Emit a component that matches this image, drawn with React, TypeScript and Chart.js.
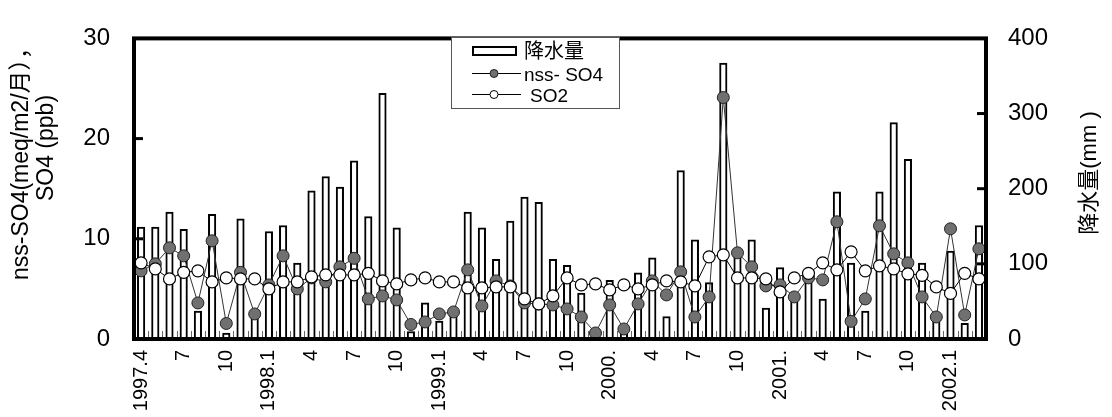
import React, { useEffect, useRef } from "react";
import { Chart, registerables } from "chart.js";

Chart.register(...registerables);

const FONT = '"Liberation Sans", "Noto Sans CJK JP", Arial, sans-serif';

const months = [
  "1997.4", "1997.5", "1997.6", "1997.7", "1997.8", "1997.9", "1997.10", "1997.11", "1997.12",
  "1998.1", "1998.2", "1998.3", "1998.4", "1998.5", "1998.6", "1998.7", "1998.8", "1998.9", "1998.10", "1998.11", "1998.12",
  "1999.1", "1999.2", "1999.3", "1999.4", "1999.5", "1999.6", "1999.7", "1999.8", "1999.9", "1999.10", "1999.11", "1999.12",
  "2000.1", "2000.2", "2000.3", "2000.4", "2000.5", "2000.6", "2000.7", "2000.8", "2000.9", "2000.10", "2000.11", "2000.12",
  "2001.1", "2001.2", "2001.3", "2001.4", "2001.5", "2001.6", "2001.7", "2001.8", "2001.9", "2001.10", "2001.11", "2001.12",
  "2002.1", "2002.2", "2002.3",
];

const xTickLabels = [
  "1997.4", "", "", "7", "", "", "10", "", "",
  "1998.1", "", "", "4", "", "", "7", "", "", "10", "", "",
  "1999.1", "", "", "4", "", "", "7", "", "", "10", "", "",
  "2000.", "", "", "4", "", "", "7", "", "", "10", "", "",
  "2001.", "", "", "4", "", "", "7", "", "", "10", "", "",
  "2002.1", "", "",
];

// 降水量 (mm), right axis
const rainfall = [
  149, 149, 169, 146, 37, 166, 8, 160, 30,
  143, 151, 101, 197, 216, 202, 237, 163, 327, 148, 10, 48,
  24, 40, 169, 148, 106, 157, 189, 182, 106, 98, 61, 5,
  78, 8, 88, 108, 30, 224, 132, 75, 367, 119, 132, 41,
  95, 60, 81, 53, 196, 101, 37, 196, 288, 239, 101, 35,
  117, 21, 151,
];

// nss-SO4 (meq/m2/月), left axis
const nssSO4 = [
  6.8, 7.5, 9.1, 8.3, 3.6, 9.8, 1.55, 6.65, 2.5,
  5.4, 8.3, 5.0, 6.1, 5.7, 7.2, 8.05, 4.0, 4.3, 3.9, 1.45, 1.7,
  2.5, 2.7, 6.9, 3.3, 5.8, 5.3, 3.6, 3.5, 3.4, 3.0, 2.2, 0.6,
  3.4, 1.0, 3.5, 5.8, 4.4, 6.7, 2.2, 4.2, 24.1, 8.6, 7.2, 5.3,
  5.4, 4.2, 6.1, 5.9, 11.7, 1.76, 4.0, 11.3, 8.5, 7.6, 4.2, 2.2,
  11.0, 2.4, 9.0,
];

// SO2 (ppb), left axis
const so2 = [
  7.6, 7.0, 6.0, 6.65, 6.8, 5.7, 6.1, 6.0, 6.0,
  5.0, 5.7, 5.7, 6.2, 6.4, 6.4, 6.4, 6.55, 5.8, 5.5, 5.9, 6.1,
  5.7, 5.7, 5.1, 5.1, 5.2, 5.2, 4.0, 3.5, 4.3, 6.1, 5.4, 5.5,
  4.9, 5.4, 5.0, 5.4, 5.8, 5.7, 5.3, 8.2, 8.4, 6.1, 6.1, 6.0,
  4.7, 6.1, 6.55, 7.6, 6.9, 8.7, 6.8, 7.3, 7.0, 6.5, 6.35, 5.2,
  4.55, 6.55, 6.0,
];

const leftTickMarks = [10, 20];
const rightTickMarks = [100, 200, 300];

const leftTitle = ["nss-SO4(meq/m2/月），", "SO4 (ppb)"];
const rightTitle = "降水量(mm )";
const legendLabels = ["降水量", "nss- SO4", "SO2"];

const framePlugin = {
  id: "frame",
  afterDatasetsDraw(chart: any) {
    const { ctx, chartArea: a, scales } = chart;
    ctx.save();
    // small ticks at month boundaries
    const x = scales.x;
    ctx.strokeStyle = "#666";
    ctx.lineWidth = 1;
    for (let i = 1; i < months.length; i++) {
      const px = (x.getPixelForValue(i - 1) + x.getPixelForValue(i)) / 2;
      ctx.beginPath();
      ctx.moveTo(Math.round(px) + 0.5, a.bottom);
      ctx.lineTo(Math.round(px) + 0.5, a.bottom - 8);
      ctx.stroke();
    }
    // frame
    ctx.strokeStyle = "#000";
    ctx.lineWidth = 4;
    ctx.strokeRect(a.left, a.top, a.right - a.left, a.bottom - a.top);
    // inward ticks
    ctx.lineWidth = 3;
    for (const v of leftTickMarks) {
      const py = scales.y.getPixelForValue(v);
      ctx.beginPath();
      ctx.moveTo(a.left, py);
      ctx.lineTo(a.left + 9, py);
      ctx.stroke();
    }
    for (const v of rightTickMarks) {
      const py = scales.y1.getPixelForValue(v);
      ctx.beginPath();
      ctx.moveTo(a.right, py);
      ctx.lineTo(a.right - 9, py);
      ctx.stroke();
    }
    ctx.restore();
  },
  afterDraw(chart: any) {
    const { ctx } = chart;
    ctx.save();
    ctx.fillStyle = "#000";
    ctx.textAlign = "center";
    ctx.textBaseline = "middle";
    // left axis title (two lines)
    ctx.font = `23px ${FONT}`;
    ctx.save();
    ctx.translate(22, 158);
    ctx.rotate(-Math.PI / 2);
    ctx.fillText(leftTitle[0], 0, 0);
    ctx.restore();
    ctx.save();
    ctx.translate(47, 148);
    ctx.rotate(-Math.PI / 2);
    ctx.fillText(leftTitle[1], 0, 0);
    ctx.restore();
    // right axis title
    ctx.font = `22px ${FONT}`;
    ctx.save();
    ctx.translate(1090, 173);
    ctx.rotate(-Math.PI / 2);
    ctx.fillText(rightTitle, 0, 0);
    ctx.restore();

    // legend
    const bx = 451, by = 37, bw = 168, bh = 71;
    ctx.fillStyle = "#fff";
    ctx.fillRect(bx, by, bw, bh);
    ctx.strokeStyle = "#555";
    ctx.lineWidth = 1;
    ctx.strokeRect(bx + 0.5, by + 0.5, bw, bh);

    // bar swatch
    ctx.fillStyle = "#fff";
    ctx.fillRect(472, 46, 45, 10);
    ctx.strokeStyle = "#000";
    ctx.lineWidth = 2;
    ctx.strokeRect(473, 47, 43, 8);
    ctx.fillStyle = "#000";
    ctx.textAlign = "left";
    ctx.font = `20px ${FONT}`;
    ctx.fillText(legendLabels[0], 524, 52);

    // nss-SO4
    ctx.lineWidth = 1;
    ctx.strokeStyle = "#000";
    ctx.beginPath();
    ctx.moveTo(472, 73.5);
    ctx.lineTo(521, 73.5);
    ctx.stroke();
    ctx.beginPath();
    ctx.arc(494, 73.5, 4, 0, Math.PI * 2);
    ctx.fillStyle = "#707070";
    ctx.fill();
    ctx.strokeStyle = "#222";
    ctx.stroke();
    ctx.fillStyle = "#000";
    ctx.font = `19px ${FONT}`;
    ctx.fillText(legendLabels[1], 524, 76);

    // SO2
    ctx.strokeStyle = "#000";
    ctx.beginPath();
    ctx.moveTo(472, 94.5);
    ctx.lineTo(521, 94.5);
    ctx.stroke();
    ctx.beginPath();
    ctx.arc(494, 94.5, 4, 0, Math.PI * 2);
    ctx.fillStyle = "#fff";
    ctx.fill();
    ctx.stroke();
    ctx.fillStyle = "#000";
    ctx.fillText(legendLabels[2], 530, 97);

    ctx.restore();
  },
};

export default function App() {
  const ref = useRef<HTMLCanvasElement | null>(null);

  useEffect(() => {
    document.body.style.margin = "0";
    const canvas = ref.current;
    if (!canvas) return;
    const chart = new Chart(canvas, {
      type: "bar",
      data: {
        labels: months,
        datasets: [
          {
            type: "line",
            label: "SO2",
            data: so2,
            yAxisID: "y",
            borderColor: "#000",
            borderWidth: 1,
            pointRadius: 6,
            pointBackgroundColor: "#fff",
            pointBorderColor: "#000",
            pointBorderWidth: 1.2,
            tension: 0,
            order: 1,
          } as any,
          {
            type: "line",
            label: "nss- SO4",
            data: nssSO4,
            yAxisID: "y",
            borderColor: "#333",
            borderWidth: 1,
            pointRadius: 6,
            pointBackgroundColor: "#707070",
            pointBorderColor: "#222",
            pointBorderWidth: 1,
            tension: 0,
            order: 2,
          } as any,
          {
            type: "bar",
            label: "降水量",
            data: rainfall,
            yAxisID: "y1",
            backgroundColor: "#fff",
            borderColor: "#000",
            borderWidth: 2,
            barThickness: 7.5,
            order: 3,
          } as any,
        ],
      },
      options: {
        responsive: false,
        animation: false,
        devicePixelRatio: 1,
        layout: { padding: { top: 16, left: 0, right: 0, bottom: 0 } },
        plugins: {
          legend: { display: false },
          tooltip: { enabled: false },
        },
        scales: {
          x: {
            offset: true,
            grid: { display: false, drawTicks: false },
            border: { display: false },
            ticks: {
              autoSkip: false,
              maxRotation: 90,
              minRotation: 90,
              padding: 11,
              color: "#000",
              font: { family: FONT, size: 20 },
              callback: (_v: any, i: number) => xTickLabels[i],
            },
            afterFit: (s: any) => {
              s.height = 78;
            },
          },
          y: {
            position: "left",
            min: 0,
            max: 30,
            grid: { display: false, drawTicks: false },
            border: { display: false },
            ticks: {
              stepSize: 10,
              padding: 24,
              color: "#000",
              font: { family: FONT, size: 24 },
            },
            afterFit: (s: any) => {
              s.width = 134;
            },
          },
          y1: {
            position: "right",
            min: 0,
            max: 400,
            grid: { display: false, drawTicks: false },
            border: { display: false },
            ticks: {
              stepSize: 100,
              padding: 22,
              color: "#000",
              font: { family: FONT, size: 24 },
            },
            afterFit: (s: any) => {
              s.width = 126;
            },
          },
        },
      } as any,
      plugins: [framePlugin],
    });
    return () => chart.destroy();
  }, []);

  return (
    <div style={{ width: 1112, height: 417 }}>
      <canvas ref={ref} width={1112} height={417} style={{ display: "block" }} />
    </div>
  );
}
